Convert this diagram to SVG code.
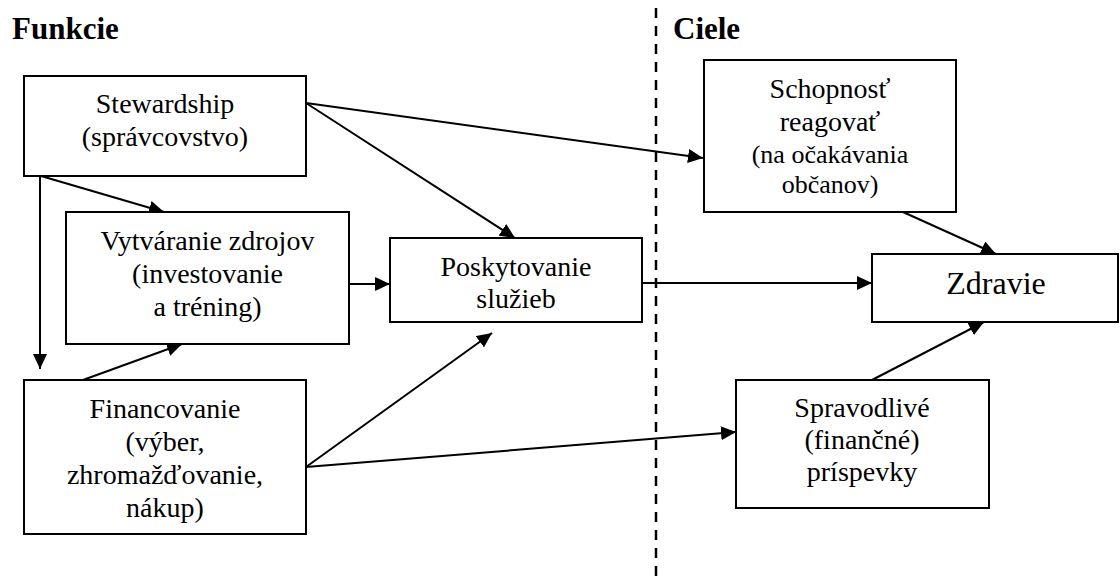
<svg xmlns="http://www.w3.org/2000/svg" width="1120" height="584" viewBox="0 0 1120 584">
  <style>
    text { font-family: 'Liberation Serif', 'DejaVu Serif', 'Times New Roman', serif; fill: #000000; }
    .box { fill: #ffffff; stroke: #000000; stroke-width: 2; }
    .lbl { font-size: 28px; text-anchor: middle; }
    .sm { font-size: 26px; }
    .big { font-size: 32px; }
    .title { font-size: 31px; font-weight: bold; }
    .link { fill: none; stroke: #000000; stroke-width: 2; marker-end: url(#head); }
  </style>
  <defs>
    <marker id="head" markerUnits="userSpaceOnUse" markerWidth="16" markerHeight="14" refX="15" refY="7" orient="auto">
      <path d="M0,0 L15,7 L0,14 z" fill="#000000"/>
    </marker>
  </defs>
  <rect width="1120" height="584" fill="#ffffff"/>

  <!-- section headings and divider -->
  <text class="title" font-family="Liberation Serif, serif" x="12" y="39">Funkcie</text>
  <text class="title" font-family="Liberation Serif, serif" x="673" y="39">Ciele</text>
  <line x1="656" y1="8" x2="656" y2="584" stroke="#000000" stroke-width="2.5" stroke-dasharray="10 8"/>

  <!-- connectors -->
  <g id="connectors">
    <path class="link" d="M306,103 L703,158"/>
    <path class="link" d="M306,103 L515,238"/>
    <path class="link" d="M40,176 L40,369"/>
    <path class="link" d="M41,176 L164,212"/>
    <path class="link" d="M83,380 L182,344"/>
    <path class="link" d="M349,284 L390,284"/>
    <path class="link" d="M306,467 L492,333"/>
    <path class="link" d="M306,467 L736,432"/>
    <path class="link" d="M642,283 L872,283"/>
    <path class="link" d="M903,212 L996,254"/>
    <path class="link" d="M872,380 L984,322"/>
  </g>

  <g id="stewardship">
    <rect class="box" x="24" y="76" width="282" height="100"/>
    <text class="lbl" x="165" y="113">Stewardship</text>
    <text class="lbl" x="165" y="146">(správcovstvo)</text>
  </g>

  <g id="vytvaranie">
    <rect class="box" x="66" y="212" width="283" height="132"/>
    <text class="lbl" x="207.5" y="250">Vytváranie zdrojov</text>
    <text class="lbl" x="207.5" y="283">(investovanie</text>
    <text class="lbl" x="207.5" y="316">a tréning)</text>
  </g>

  <g id="financovanie">
    <rect class="box" x="24" y="380" width="282" height="154"/>
    <text class="lbl" x="165" y="418">Financovanie</text>
    <text class="lbl" x="165" y="451">(výber,</text>
    <text class="lbl" x="165" y="484">zhromažďovanie,</text>
    <text class="lbl" x="165" y="517">nákup)</text>
  </g>

  <g id="poskytovanie">
    <rect class="box" x="390" y="238" width="252" height="84"/>
    <text class="lbl" x="516" y="276">Poskytovanie</text>
    <text class="lbl" x="516" y="308">služieb</text>
  </g>

  <g id="schopnost">
    <rect class="box" x="704" y="60" width="252" height="152"/>
    <text class="lbl" x="830" y="98">Schopnosť</text>
    <text class="lbl" x="830" y="131">reagovať</text>
    <text class="lbl sm" x="830" y="163">(na očakávania</text>
    <text class="lbl sm" x="830" y="193">občanov)</text>
  </g>

  <g id="zdravie">
    <rect class="box" x="872" y="254" width="246" height="68"/>
    <text class="lbl big" x="996" y="294">Zdravie</text>
  </g>

  <g id="spravodlive">
    <rect class="box" x="736" y="380" width="253" height="128"/>
    <text class="lbl" x="862" y="417">Spravodlivé</text>
    <text class="lbl" x="862" y="449">(finančné)</text>
    <text class="lbl" x="862" y="481">príspevky</text>
  </g>
</svg>
